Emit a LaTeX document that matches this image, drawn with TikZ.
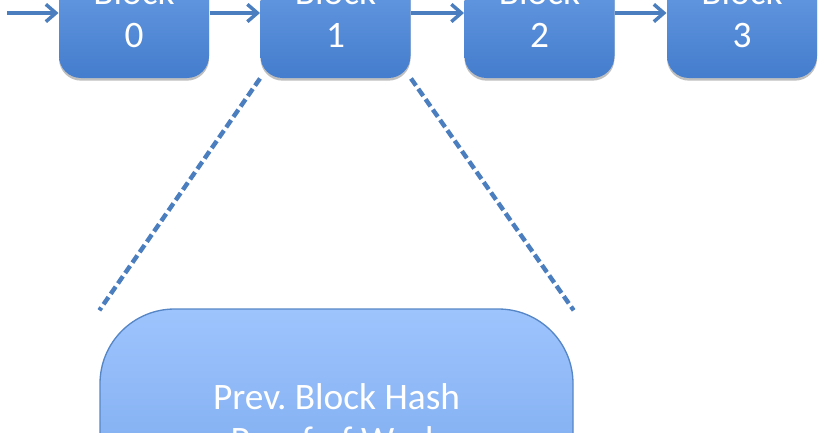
\documentclass[tikz,border=0pt]{standalone}
\usepackage{fontspec}
\setmainfont{Carlito}
\usetikzlibrary{arrows.meta,shadows}

\definecolor{linkblue}{RGB}{74,126,190}
\definecolor{blocktop}{RGB}{112,162,232}
\definecolor{blockbot}{RGB}{68,125,205}
\definecolor{bigtop}{RGB}{158,196,253}
\definecolor{bigbot}{RGB}{118,166,236}
\definecolor{bigline}{RGB}{86,134,198}

\tikzset{every picture/.style={line width=0.75pt}}
\tikzset{
  chainblock/.style={rounded corners=16.5pt, minimum width=112.5pt, minimum height=97.5pt,
    top color=blocktop, bottom color=blockbot, draw=none, text=white, align=center,
    font=\fontsize{28}{32.3}\selectfont,
    drop shadow={shadow xshift=0pt, shadow yshift=-2pt, opacity=0.25, fill=black}},
  headerbox/.style={rounded corners=56pt, minimum width=354.75pt, minimum height=163.5pt,
    top color=bigtop, bottom color=bigbot, draw=bigline, line width=1pt, text=white, align=center,
    font=\fontsize{28}{32.3}\selectfont},
  link/.style={draw=linkblue, line width=2.6pt, -{Straight Barb[length=7.5pt,width=13pt,line width=2.6pt]}},
  zoomline/.style={draw=linkblue, line width=3.3pt, dash pattern=on 6.5pt off 3pt}
}

\begin{document}
\frenchspacing
\begin{tikzpicture}[x=0.75pt,y=0.75pt,yscale=-1,xscale=1]
	\useasboundingbox (0,0) rectangle (824,432);
	\clip (0,0) rectangle (824,432);

	% Chain of blocks
	\node [chainblock] (b0) at (134,13) {Block\\0};
	\node [chainblock] (b1) at (335.5,13) {Block\\1};
	\node [chainblock] (b2) at (539.5,13) {Block\\2};
	\node [chainblock] (b3) at (742,13) {Block\\3};
	\coordinate (start) at (7,13);

	% Links
	\draw [link] (start) -- (b0.west);
	\draw [link] (b0.east) -- (b1.west);
	\draw [link] (b1.east) -- (b2.west);
	\draw [link] (b2.east) -- (b3.west);

	% Block header
	\node [headerbox] (hdr) at (336.5,418) {Prev. Block Hash\\Proof of Work};

	% Zoom lines
	\draw [zoomline] (b1.south west) -- ([yshift=1.5pt]hdr.north west);
	\draw [zoomline] (b1.south east) -- ([yshift=1.5pt]hdr.north east);

\end{tikzpicture}
\end{document}
